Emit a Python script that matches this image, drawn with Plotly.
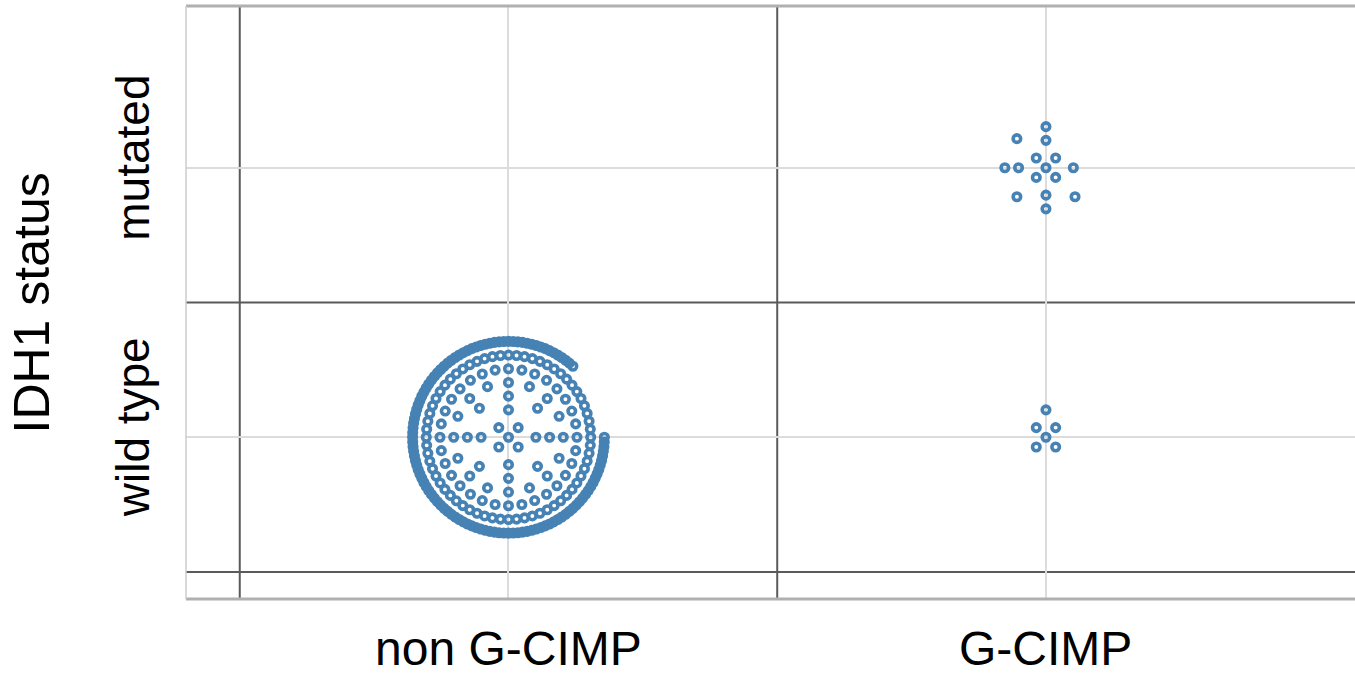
import math
import plotly.graph_objects as go

# ---- data (counts per cell) ----
x_categories = ["non G-CIMP", "G-CIMP"]
y_categories = ["wild type", "mutated"]
counts_non_gcimp = [241, 0]   # [wild type, mutated]
counts_gcimp = [6, 15]        # [wild type, mutated]
counts = [counts_non_gcimp, counts_gcimp]
y_title = "IDH1 status"

# ---- figure geometry ----
W, H = 1355, 677
margin = dict(l=186, r=0, t=6, b=78)
x_range = [-0.6, 1.575]
y_range = [-0.6, 1.6]
plot_w = W - margin["l"] - margin["r"]
plot_h = H - margin["t"] - margin["b"]
px_x = plot_w / (x_range[1] - x_range[0])
px_y = plot_h / (y_range[1] - y_range[0])
RING_PX = 13.7  # pixel distance between rings
COLOR = "#4682b4"


def ring_layout(n):
    """Concentric-ring layout of n points: returns (ring, angle_deg)."""
    slots = [(0, 0.0)]
    k = 1
    while len(slots) < n:
        if k == 1:
            cap, off = 4, 45.0
        elif k == 2:
            cap, off = 4, 0.0
        else:
            cap, off = 2 ** k, 0.0
        angles = [off + 360.0 * j / cap for j in range(cap)]
        angles.sort(key=lambda a: (a - 46.0) % 360.0)
        slots += [(k, a) for a in angles]
        k += 1
    return slots[:n]


xs, ys = [], []
for xi, col in enumerate(counts):
    for yi, n in enumerate(col):
        for k, a in ring_layout(n):
            r = k * RING_PX
            xs.append(xi + r * math.cos(math.radians(a)) / px_x)
            ys.append(yi + r * math.sin(math.radians(a)) / px_y)

fig = go.Figure()
fig.add_trace(go.Scatter(
    x=xs, y=ys, mode="markers",
    marker=dict(symbol="circle-open", size=7.5, color=COLOR,
                line=dict(width=3.6, color=COLOR)),
    hoverinfo="skip", showlegend=False,
))

shapes = []
# cell boundaries (dark lines)
for i in range(len(x_categories)):
    shapes.append(dict(type="line", xref="x", yref="paper", x0=i - 0.5, x1=i - 0.5,
                       y0=0, y1=1, line=dict(color="#5a5a5a", width=2), layer="below"))
for j in range(len(y_categories)):
    shapes.append(dict(type="line", xref="paper", yref="y", x0=0, x1=1,
                       y0=j - 0.5, y1=j - 0.5, line=dict(color="#5a5a5a", width=2), layer="below"))
# frame
shapes.append(dict(type="line", xref="paper", yref="paper", x0=0, x1=1, y0=1, y1=1,
                   line=dict(color="#b0b0b0", width=3)))
shapes.append(dict(type="line", xref="paper", yref="paper", x0=0, x1=1, y0=0, y1=0,
                   line=dict(color="#b0b0b0", width=3)))
shapes.append(dict(type="line", xref="paper", yref="paper", x0=0, x1=0, y0=0, y1=1,
                   line=dict(color="#cccccc", width=1.5)))

font = "Liberation Sans, Arial, sans-serif"
annotations = []
for i, lab in enumerate(x_categories):
    annotations.append(dict(text=lab, xref="x", yref="paper", x=i, y=0, yshift=-77,
                            xanchor="center", yanchor="bottom", showarrow=False, borderpad=0,
                            font=dict(family=font, size=48, color="black")))
for j, lab in enumerate(y_categories):
    annotations.append(dict(text=lab, xref="paper", yref="y", x=0, y=j, xshift=-53, yshift=10,
                            xanchor="center", yanchor="middle", textangle=-90, showarrow=False,
                            font=dict(family=font, size=46, color="black")))
annotations.append(dict(text=y_title, xref="paper", yref="paper", x=0, y=0.5, xshift=-155,
                        yshift=-1, xanchor="center", yanchor="middle", textangle=-90,
                        showarrow=False, font=dict(family=font, size=50, color="black")))

fig.update_layout(
    width=W, height=H, margin=margin,
    paper_bgcolor="white", plot_bgcolor="white",
    shapes=shapes, annotations=annotations,
    xaxis=dict(range=x_range, tickvals=list(range(len(x_categories))), showticklabels=False,
               showgrid=True, gridcolor="#dcdcdc", gridwidth=1.5, zeroline=False,
               showline=False, ticks=""),
    yaxis=dict(range=y_range, tickvals=list(range(len(y_categories))), showticklabels=False,
               showgrid=True, gridcolor="#dcdcdc", gridwidth=1.5, zeroline=False,
               showline=False, ticks=""),
)
fig.write_html("out.html", config={"displayModeBar": False},
               post_script="document.body.style.margin='0px';document.body.style.overflow='hidden';")
